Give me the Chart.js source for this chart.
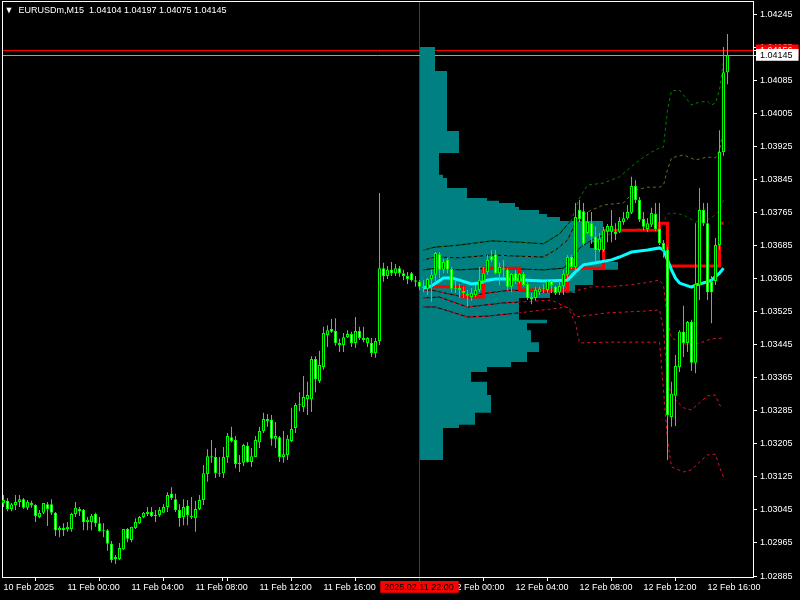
<!DOCTYPE html>
<html><head><meta charset="utf-8">
<script src="https://cdn.jsdelivr.net/npm/chart.js@4/dist/chart.umd.min.js"></script>
<style>html,body{margin:0;padding:0;background:#000;}canvas{display:block;background:#000;}</style>
</head><body>
<canvas id="c" width="800" height="600"></canvas>
<script>
const symbol = 'EURUSDm';
const timeframe = 'M15';
const opens = [1.03062,1.03067,1.03047,1.03057,1.03064,1.03071,1.03050,1.03062,1.03057,1.03028,1.03038,1.03059,1.03059,1.03038,1.02996,1.03001,1.02999,1.02999,1.03035,1.03047,1.03045,1.03016,1.03016,1.03035,1.03013,1.02994,1.02996,1.02963,1.02926,1.02926,1.02950,1.02999,1.02972,1.03001,1.03013,1.03028,1.03035,1.03040,1.03030,1.03033,1.03038,1.03052,1.03084,1.03071,1.03045,1.03028,1.03055,1.03030,1.03025,1.03047,1.03069,1.03132,1.03173,1.03173,1.03134,1.03134,1.03173,1.03221,1.03214,1.03156,1.03159,1.03200,1.03161,1.03173,1.03209,1.03236,1.03265,1.03263,1.03217,1.03221,1.03173,1.03178,1.03212,1.03243,1.03299,1.03294,1.03313,1.03313,1.03410,1.03357,1.03391,1.03468,1.03483,1.03478,1.03449,1.03444,1.03463,1.03471,1.03449,1.03478,1.03461,1.03449,1.03449,1.03425,1.03454,1.03630,1.03611,1.03626,1.03618,1.03630,1.03618,1.03611,1.03618,1.03601,1.03597,1.03582,1.03580,1.03604,1.03614,1.03664,1.03626,1.03650,1.03628,1.03580,1.03582,1.03575,1.03568,1.03560,1.03565,1.03577,1.03599,1.03621,1.03659,1.03664,1.03618,1.03630,1.03626,1.03585,1.03618,1.03597,1.03616,1.03592,1.03560,1.03558,1.03572,1.03580,1.03577,1.03599,1.03585,1.03572,1.03587,1.03614,1.03657,1.03633,1.03771,1.03768,1.03715,1.03739,1.03706,1.03674,1.03674,1.03718,1.03718,1.03718,1.03718,1.03742,1.03751,1.03764,1.03829,1.03795,1.03749,1.03725,1.03735,1.03761,1.03725,1.03691,1.03674,1.03270,1.03321,1.03391,1.03476,1.03449,1.03500,1.03401,1.03589,1.03771,1.03739,1.03597,1.03599,1.03686,1.03911,1.04104];
const highs = [1.03081,1.03074,1.03062,1.03081,1.03081,1.03074,1.03069,1.03067,1.03059,1.03045,1.03062,1.03064,1.03071,1.03040,1.03006,1.03013,1.03016,1.03038,1.03064,1.03052,1.03047,1.03028,1.03035,1.03038,1.03028,1.03013,1.02999,1.02970,1.02936,1.02965,1.02999,1.03001,1.03004,1.03025,1.03030,1.03040,1.03052,1.03052,1.03045,1.03052,1.03059,1.03088,1.03100,1.03084,1.03059,1.03071,1.03069,1.03076,1.03067,1.03081,1.03154,1.03192,1.03214,1.03195,1.03173,1.03197,1.03231,1.03246,1.03224,1.03178,1.03205,1.03209,1.03195,1.03224,1.03246,1.03280,1.03277,1.03275,1.03258,1.03224,1.03236,1.03226,1.03292,1.03304,1.03330,1.03369,1.03355,1.03417,1.03417,1.03430,1.03488,1.03492,1.03507,1.03509,1.03459,1.03473,1.03480,1.03476,1.03512,1.03488,1.03488,1.03463,1.03461,1.03461,1.03812,1.03643,1.03635,1.03645,1.03640,1.03635,1.03626,1.03621,1.03621,1.03611,1.03601,1.03601,1.03606,1.03626,1.03669,1.03669,1.03652,1.03655,1.03633,1.03599,1.03592,1.03585,1.03577,1.03582,1.03589,1.03633,1.03633,1.03662,1.03674,1.03674,1.03643,1.03650,1.03630,1.03618,1.03626,1.03618,1.03621,1.03599,1.03570,1.03585,1.03585,1.03592,1.03601,1.03601,1.03587,1.03599,1.03626,1.03662,1.03662,1.03788,1.03795,1.03788,1.03766,1.03766,1.03730,1.03715,1.03730,1.03737,1.03771,1.03739,1.03754,1.03766,1.03783,1.03851,1.03843,1.03802,1.03766,1.03751,1.03776,1.03788,1.03788,1.03698,1.03681,1.03355,1.03420,1.03480,1.03539,1.03502,1.03505,1.03739,1.03824,1.03788,1.03788,1.03611,1.03703,1.03964,1.04165,1.04197];
const lows = [1.03052,1.03042,1.03042,1.03045,1.03052,1.03047,1.03045,1.03050,1.03016,1.03025,1.03035,1.03006,1.03033,1.02982,1.02979,1.02982,1.02992,1.02992,1.03028,1.03030,1.02996,1.02996,1.02996,1.03004,1.02992,1.02979,1.02946,1.02917,1.02914,1.02924,1.02948,1.02967,1.02967,1.02999,1.03011,1.03025,1.03030,1.03028,1.03016,1.03028,1.03038,1.03040,1.03069,1.03040,1.03004,1.03008,1.03008,1.03023,1.02992,1.03045,1.03057,1.03113,1.03159,1.03122,1.03125,1.03122,1.03159,1.03209,1.03146,1.03137,1.03151,1.03159,1.03149,1.03173,1.03195,1.03231,1.03246,1.03200,1.03195,1.03161,1.03159,1.03166,1.03209,1.03231,1.03284,1.03282,1.03275,1.03282,1.03330,1.03352,1.03384,1.03439,1.03473,1.03442,1.03427,1.03427,1.03461,1.03439,1.03437,1.03456,1.03451,1.03439,1.03415,1.03413,1.03444,1.03597,1.03604,1.03611,1.03611,1.03609,1.03601,1.03592,1.03597,1.03585,1.03577,1.03572,1.03565,1.03548,1.03599,1.03606,1.03618,1.03618,1.03572,1.03570,1.03558,1.03558,1.03536,1.03551,1.03560,1.03572,1.03592,1.03614,1.03645,1.03616,1.03589,1.03606,1.03577,1.03572,1.03592,1.03592,1.03585,1.03553,1.03543,1.03551,1.03565,1.03570,1.03570,1.03570,1.03565,1.03565,1.03565,1.03606,1.03628,1.03626,1.03742,1.03684,1.03713,1.03689,1.03643,1.03669,1.03669,1.03693,1.03693,1.03698,1.03715,1.03735,1.03747,1.03761,1.03788,1.03742,1.03722,1.03718,1.03730,1.03720,1.03686,1.03655,1.03166,1.03246,1.03248,1.03379,1.03415,1.03427,1.03381,1.03376,1.03553,1.03732,1.03553,1.03497,1.03589,1.03674,1.03902,1.04075];
const closes = [1.03069,1.03047,1.03059,1.03064,1.03071,1.03050,1.03064,1.03057,1.03030,1.03038,1.03062,1.03047,1.03038,1.02996,1.03001,1.02996,1.03004,1.03035,1.03050,1.03042,1.03016,1.03021,1.03030,1.03013,1.02994,1.02996,1.02963,1.02924,1.02931,1.02953,1.02999,1.02975,1.03004,1.03016,1.03028,1.03038,1.03040,1.03030,1.03033,1.03045,1.03052,1.03081,1.03074,1.03045,1.03025,1.03052,1.03033,1.03028,1.03047,1.03069,1.03134,1.03175,1.03175,1.03134,1.03132,1.03173,1.03224,1.03212,1.03156,1.03159,1.03202,1.03161,1.03175,1.03214,1.03236,1.03265,1.03260,1.03217,1.03224,1.03173,1.03180,1.03217,1.03241,1.03299,1.03301,1.03318,1.03323,1.03410,1.03362,1.03396,1.03473,1.03480,1.03476,1.03449,1.03444,1.03463,1.03471,1.03449,1.03478,1.03461,1.03456,1.03461,1.03425,1.03454,1.03630,1.03611,1.03626,1.03618,1.03630,1.03618,1.03611,1.03604,1.03601,1.03597,1.03585,1.03585,1.03604,1.03614,1.03667,1.03626,1.03645,1.03626,1.03580,1.03582,1.03577,1.03570,1.03563,1.03570,1.03577,1.03601,1.03618,1.03650,1.03650,1.03618,1.03633,1.03626,1.03585,1.03616,1.03599,1.03616,1.03589,1.03558,1.03555,1.03577,1.03580,1.03582,1.03599,1.03589,1.03570,1.03587,1.03616,1.03657,1.03633,1.03754,1.03749,1.03689,1.03742,1.03706,1.03674,1.03701,1.03722,1.03732,1.03732,1.03713,1.03744,1.03751,1.03766,1.03829,1.03795,1.03747,1.03730,1.03739,1.03764,1.03725,1.03691,1.03674,1.03275,1.03326,1.03393,1.03476,1.03449,1.03500,1.03401,1.03592,1.03771,1.03739,1.03572,1.03572,1.03686,1.03911,1.04104,1.04145];

const timeTickIdx = [0,16,32,48,64,80,96,112,128,144,160,176];
const timeTickLabels = ['10 Feb 2025','11 Feb 00:00','11 Feb 04:00','11 Feb 08:00','11 Feb 12:00','11 Feb 16:00','11 Feb 20:00','12 Feb 00:00','12 Feb 04:00','12 Feb 08:00','12 Feb 12:00','12 Feb 16:00'];
const cursorIdx = 104;
const cursorLabel = '2025.02.11 22:00';
const priceTicks = [1.04245,1.04165,1.04085,1.04005,1.03925,1.03845,1.03765,1.03685,1.03605,1.03525,1.03445,1.03365,1.03285,1.03205,1.03125,1.03045,1.02965,1.02885];
const askPrice = 1.04156;
const bidPrice = 1.04145;

const vwapX = [105,107,110,112,114,117,119,121,123,126,131,135,141,143,145,148,152,154,157,161,164,165,166,167,168,169,172,173,176,177,179,180];
const vwapY = [1.03582,1.03587,1.03606,1.03606,1.03601,1.03592,1.03594,1.03601,1.03604,1.03604,1.03601,1.03599,1.03601,1.03621,1.03638,1.03643,1.03650,1.03657,1.03669,1.03674,1.03679,1.03674,1.03650,1.03626,1.03606,1.03594,1.03584,1.03589,1.03597,1.03601,1.03618,1.03630];
const levelX = [107,115,120,129,141,150,164,166,179,180];
const levelY = [1.03585,1.03560,1.03630,1.03577,1.03630,1.03722,1.03739,1.03635,1.03739,1.03739];

const up3X = [105,108,114,122,129,135,139,142,144,146,150,154,156,159,162,164,165,166,167,169,170,172,174,176,177,178,179,180];
const up3Y = [1.03674,1.03681,1.03686,1.03696,1.03693,1.03689,1.03713,1.03747,1.03800,1.03831,1.03836,1.03851,1.03868,1.03892,1.03911,1.03921,1.03923,1.04013,1.04059,1.04061,1.04049,1.04025,1.04032,1.04034,1.04025,1.04030,1.04061,1.04131];
const up2X = [105,108,114,122,129,135,138,141,143,146,150,155,158,161,164,165,166,167,170,173,176,178,179,180];
const up2Y = [1.03650,1.03657,1.03655,1.03662,1.03659,1.03657,1.03674,1.03698,1.03739,1.03766,1.03783,1.03788,1.03819,1.03826,1.03826,1.03831,1.03868,1.03897,1.03904,1.03892,1.03899,1.03897,1.03916,1.03964];
const up1X = [105,108,114,122,129,135,140,142,144,147,150,155,160,164,165,166,167,170,173,176,178,179,180];
const up1Y = [1.03626,1.03630,1.03626,1.03630,1.03628,1.03626,1.03630,1.03650,1.03679,1.03698,1.03710,1.03718,1.03727,1.03735,1.03742,1.03761,1.03764,1.03759,1.03742,1.03747,1.03759,1.03771,1.03795];
const dn1X = [105,107,115,121,127,135,142,147,151,156,160,164,165,166,167,171,174,177,180];
const dn1Y = [1.03577,1.03577,1.03560,1.03570,1.03577,1.03572,1.03572,1.03585,1.03585,1.03589,1.03594,1.03601,1.03589,1.03505,1.03461,1.03444,1.03449,1.03459,1.03461];
const dn2X = [105,109,116,125,129,137,142,143,151,160,164,165,166,167,170,172,174,176,178,179,180];
const dn2Y = [1.03558,1.03560,1.03536,1.03546,1.03548,1.03553,1.03529,1.03512,1.03522,1.03526,1.03529,1.03480,1.03359,1.03321,1.03292,1.03287,1.03304,1.03321,1.03323,1.03299,1.03292];
const dn3X = [105,108,116,121,129,141,143,144,151,160,164,165,166,167,170,172,174,176,178,179,180];
const dn3Y = [1.03536,1.03536,1.03512,1.03514,1.03522,1.03536,1.03497,1.03449,1.03451,1.03451,1.03451,1.03335,1.03214,1.03149,1.03137,1.03142,1.03161,1.03178,1.03180,1.03149,1.03125];

const profileStart = 104.125;
const profileEdges = [1.04165,1.04107,1.03962,1.03909,1.03856,1.03848,1.03824,1.03800,1.03793,1.03788,1.03778,1.03771,1.03761,1.03754,1.03744,1.03693,1.03679,1.03645,1.03626,1.03589,1.03570,1.03558,1.03505,1.03497,1.03480,1.03451,1.03427,1.03403,1.03391,1.03379,1.03355,1.03323,1.03280,1.03251,1.03243,1.03166];
const profileWidths = [3.75,6.75,9.75,4.75,5.75,6.75,11.75,16.75,19.75,23.75,24.75,29.75,31.75,35,45.75,42.5,45,49.5,43.25,38.75,32.5,24.75,31.75,26.75,27.75,29.75,26.75,22.75,16.75,12.75,16.75,17.75,13.75,9.75,5.75];

const xMin = -0.375, xMax = 187.375;
const yMin = 1.0288266, yMax = 1.0427416;
const FONT = "'Liberation Sans', Arial, sans-serif";

Chart.defaults.font.family = FONT;
Chart.defaults.font.size = 9;
Chart.defaults.color = '#ffffff';
Chart.defaults.elements.point.radius = 0;
Chart.defaults.elements.line.tension = 0;

const idx = opens.map((_, i) => i);
const wickData = idx.map(i => ({x: i, y: [lows[i], highs[i]]}));
const bodyData = idx.map(i => ({x: i, y: [opens[i], closes[i]]}));
const bodyFill = idx.map(i => closes[i] < opens[i] ? '#ffffff' : '#000000');
const pts = (xs, ys) => xs.map((x, k) => ({x: x, y: ys[k]}));

const profilePts = [{x: profileStart, y: profileEdges[0]}];
profileWidths.forEach((w, k) => {
  profilePts.push({x: profileStart + w, y: profileEdges[k]});
  profilePts.push({x: profileStart + w, y: profileEdges[k + 1]});
});
profilePts.push({x: profileStart, y: profileEdges[profileEdges.length - 1]});

function band(xs, ys, color) {
  return [
    {label: 'u', data: pts(xs, ys), borderColor: '#000000', borderWidth: 1, order: 5, xAxisID: 'x', yAxisID: 'y'},
    {label: 'd', data: pts(xs, ys), borderColor: color, borderWidth: 1, borderDash: [3, 3], order: 4, xAxisID: 'x', yAxisID: 'y'}
  ];
}

const last = opens.length - 1;
const fmt = v => v.toFixed(5);
const titleText = ' \u25BC  ' + symbol + ',' + timeframe + '  ' + fmt(opens[last]) + ' ' + fmt(highs[last]) + ' ' + fmt(lows[last]) + ' ' + fmt(closes[last]);

// centre the cursor time label on the cursor bar (label is drawn left-aligned from its tick)
const mctx = document.createElement('canvas').getContext('2d');
mctx.font = 'normal 9px ' + FONT;
const pxPerBar = 751 / (xMax - xMin);
const cursorTickValue = cursorIdx - (mctx.measureText(cursorLabel).width + 1) / 2 / pxPerBar;
const CUR = timeTickIdx.length;

const zeroPad = s => { s.paddingTop = 0; s.paddingBottom = 0; s.paddingLeft = 0; s.paddingRight = 0; };

new Chart(document.getElementById('c'), {
  type: 'line',
  data: {datasets: [
    {type: 'bar', label: 'body', data: bodyData, backgroundColor: bodyFill, borderColor: '#00ff00', borderWidth: 1, borderSkipped: false, barThickness: 3, grouped: false, inflateAmount: 0, order: 0, xAxisID: 'x', yAxisID: 'y'},
    {type: 'bar', label: 'wick', data: wickData, backgroundColor: '#00ff00', borderWidth: 0, barThickness: 1, grouped: false, inflateAmount: 0, order: 1, xAxisID: 'x', yAxisID: 'y'},
    {label: 'vwap', data: pts(vwapX, vwapY), borderColor: '#00ffff', borderWidth: 3, order: 2, xAxisID: 'x', yAxisID: 'y'},
    {label: 'level', data: pts(levelX, levelY), borderColor: '#ff0000', borderWidth: 3, stepped: true, order: 3, xAxisID: 'x', yAxisID: 'y'},
    ...band(up3X, up3Y, '#008000'),
    ...band(up2X, up2Y, '#6b6b2a'),
    ...band(up1X, up1Y, '#006400'),
    ...band(dn1X, dn1Y, '#e0102a'),
    ...band(dn2X, dn2Y, '#e0102a'),
    ...band(dn3X, dn3Y, '#e0102a'),
    {label: 'profile', data: profilePts, borderWidth: 0, borderColor: 'rgba(0,0,0,0)', backgroundColor: '#008080', fill: 'shape', order: 10, xAxisID: 'x', yAxisID: 'y'}
  ]},
  options: {
    responsive: false, animation: false, devicePixelRatio: 1,
    layout: {padding: {left: 2, top: 2, right: 0, bottom: 0}},
    plugins: {
      legend: {display: false}, tooltip: {enabled: false},
      title: {display: true, text: titleText, align: 'start', color: '#ffffff',
        font: {size: 9, weight: 'normal'}, padding: {top: 3, bottom: -13.8}}
    },
    scales: {
      x: {type: 'linear', position: 'bottom', min: xMin, max: xMax, offset: false, weight: 1,
        afterBuildTicks: s => { s.ticks = timeTickIdx.map(v => ({value: v})).concat([{value: cursorTickValue}]); },
        afterFit: s => { s.height = 23; zeroPad(s); },
        ticks: {autoSkip: false, maxRotation: 0, align: 'start', padding: 1,
          color: c => c.index === CUR ? '#000000' : '#ffffff',
          showLabelBackdrop: c => c.index === CUR,
          backdropColor: '#ff0000', backdropPadding: {left: 4, right: 5, top: 1, bottom: 0},
          callback: (v, i) => i < CUR ? timeTickLabels[i] : cursorLabel},
        grid: {display: true, drawOnChartArea: false, tickLength: 4, color: '#ffffff',
          tickColor: c => c.index === CUR ? 'rgba(0,0,0,0)' : '#ffffff'},
        border: {display: true, color: '#ffffff', width: 1}},
      xc: {type: 'linear', position: 'bottom', min: xMin, max: xMax, offset: false, weight: 0,
        afterBuildTicks: s => { s.ticks = [{value: cursorIdx}]; },
        afterFit: s => { s.height = 0; zeroPad(s); },
        ticks: {display: false},
        grid: {display: true, drawOnChartArea: true, tickLength: 4, color: '#d00000', tickColor: '#d00000'},
        border: {display: false}},
      xt: {type: 'linear', position: 'top', min: xMin, max: xMax,
        afterFit: s => { s.height = 0; zeroPad(s); },
        ticks: {display: false}, grid: {display: false, drawTicks: false},
        border: {display: true, color: '#ffffff'}},
      y: {type: 'linear', position: 'right', min: yMin, max: yMax, weight: 0,
        afterBuildTicks: s => { s.ticks = priceTicks.concat([askPrice, bidPrice]).map(v => ({value: v})); },
        afterFit: s => { s.width = 47; zeroPad(s); },
        ticks: {autoSkip: false, padding: 3, callback: v => v.toFixed(5),
          color: c => (c.tick && c.tick.value === bidPrice) ? '#000000' : '#ffffff',
          showLabelBackdrop: c => !!(c.tick && (c.tick.value === bidPrice || c.tick.value === askPrice)),
          backdropColor: c => (c.tick && c.tick.value === bidPrice) ? '#ffffff' : '#ff0000',
          backdropPadding: {left: 4, right: 6, top: 1, bottom: 0}},
        grid: {display: true, drawOnChartArea: true, tickLength: 4, tickColor: '#ffffff',
          color: c => {
            if (!c.tick) return 'rgba(0,0,0,0)';
            if (c.tick.value === bidPrice) return '#a0a0a0';
            if (c.tick.value === askPrice) return '#ff0000';
            return 'rgba(0,0,0,0)';
          }},
        border: {display: true, color: '#ffffff'}},
      yl: {type: 'linear', position: 'left', min: yMin, max: yMax,
        afterFit: s => { s.width = 0; zeroPad(s); },
        ticks: {display: false}, grid: {display: false, drawTicks: false},
        border: {display: true, color: '#ffffff'}}
    }
  }
});
</script>
</body></html>
